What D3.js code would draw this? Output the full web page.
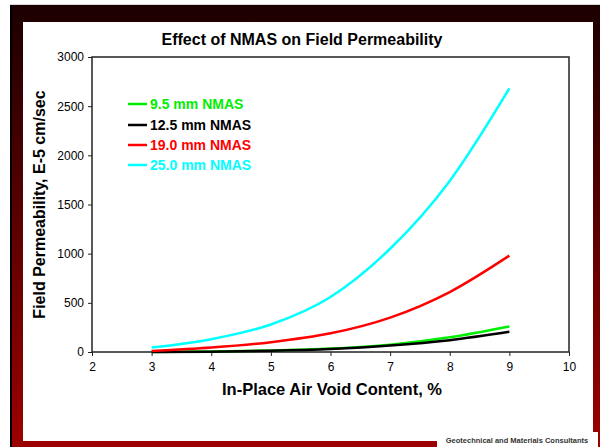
<!DOCTYPE html>
<html>
<head>
<meta charset="utf-8">
<script src="https://cdn.jsdelivr.net/npm/d3@7"></script>
<style>
  body { margin: 0; background: #fff; }
  text { font-family: "Liberation Sans", Arial, sans-serif; }
</style>
</head>
<body>
<div id="chart"></div>
<script>
// valores
const voids = [3, 4, 5, 6, 7, 8, 9];
const nmas95 = [0, 5, 15, 35, 75, 150, 260];
const nmas125 = [0, 3, 12, 30, 65, 120, 205];
const nmas190 = [10, 45, 100, 190, 350, 610, 980];
const nmas250 = [45, 130, 280, 560, 1050, 1740, 2680];
const seriesNames = ["9.5 mm NMAS", "12.5 mm NMAS", "19.0 mm NMAS", "25.0 mm NMAS"];
const seriesColors = ["#00ee00", "#000000", "#ff0000", "#00ffff"];
const yTicks = [0, 500, 1000, 1500, 2000, 2500, 3000];
const xTicks = [2, 3, 4, 5, 6, 7, 8, 9, 10];

const W = 600, H = 447;
const svg = d3.select("#chart").append("svg")
    .attr("width", W)
    .attr("height", H);

// moldura escura
const defs = svg.append("defs");
const grad = defs.append("linearGradient")
    .attr("id", "frameGrad")
    .attr("x1", 0).attr("y1", 0).attr("x2", 0).attr("y2", 1);
grad.append("stop").attr("offset", "0%").attr("stop-color", "#1c0000");
grad.append("stop").attr("offset", "100%").attr("stop-color", "#9c0000");

svg.append("line")
    .attr("x1", 10).attr("x2", W).attr("y1", 4.5).attr("y2", 4.5)
    .style("stroke", "#d8d8d8");
svg.append("rect")
    .attr("x", 10).attr("y", 5).attr("width", W - 10).attr("height", H - 5)
    .style("fill", "url(#frameGrad)");
svg.append("rect")
    .attr("x", 10).attr("y", 5).attr("width", 2).attr("height", H - 5)
    .style("fill", "#000");
svg.append("rect")
    .attr("x", 23).attr("y", 22).attr("width", 570).attr("height", 419)
    .style("fill", "#fff");

// caixa do logotipo
svg.append("rect")
    .attr("x", 437).attr("y", 432).attr("width", 161).attr("height", 15)
    .style("fill", "#fff");
svg.append("text")
    .attr("x", 517).attr("y", 443)
    .style("text-anchor", "middle")
    .style("font-size", "7.5px")
    .style("font-weight", "bold")
    .style("fill", "#333")
    .text("Geotechnical and Materials Consultants");

const mLeft = 92, mRight = 569, mTop = 57, mBottom = 352;

const x = d3.scaleLinear().domain([2, 10]).range([mLeft, mRight]);
const y = d3.scaleLinear().domain([0, 3000]).range([mBottom, mTop]);

svg.append("text")
    .attr("x", 302).attr("y", 45)
    .style("text-anchor", "middle")
    .style("font-size", "16px")
    .style("font-weight", "bold")
    .text("Effect of NMAS on Field Permeability");

// eixos
const xAxis = svg.append("g")
    .attr("transform", "translate(0," + mBottom + ")")
    .call(d3.axisBottom(x).tickValues(xTicks).tickFormat(d3.format("d"))
        .tickSize(4).tickSizeOuter(0).tickPadding(6));
const yAxis = svg.append("g")
    .attr("transform", "translate(" + mLeft + ",0)")
    .call(d3.axisLeft(y).tickValues(yTicks).tickFormat(d3.format("d"))
        .tickSize(4).tickSizeOuter(0).tickPadding(4));
[xAxis, yAxis].forEach(a => {
    a.select(".domain").remove();
    a.selectAll("line").style("stroke", "#222").style("stroke-width", 1);
    a.selectAll("text")
        .style("font-family", "'Liberation Sans', Arial, sans-serif")
        .style("font-size", "12px")
        .style("fill", "#000");
});

svg.append("rect")
    .attr("x", mLeft).attr("y", mTop)
    .attr("width", mRight - mLeft).attr("height", mBottom - mTop)
    .style("fill", "none")
    .style("stroke", "#222")
    .style("stroke-width", 1.5);

svg.append("text")
    .attr("x", 332).attr("y", 395)
    .style("text-anchor", "middle")
    .style("font-size", "16.5px")
    .style("font-weight", "bold")
    .text("In-Place Air Void Content, %");

svg.append("text")
    .attr("transform", "translate(45," + ((mTop + mBottom) / 2) + ") rotate(-90)")
    .style("text-anchor", "middle")
    .style("font-size", "16px")
    .style("font-weight", "bold")
    .text("Field Permeability, E-5 cm/sec");

// linhas
const allSeries = [nmas95, nmas125, nmas190, nmas250];
const line = d3.line()
    .x((d, i) => x(voids[i]))
    .y(d => y(d))
    .curve(d3.curveMonotoneX);

svg.append("g").selectAll("path")
    .data(allSeries)
    .enter()
    .append("path")
    .attr("d", d => line(d))
    .style("fill", "none")
    .style("stroke", (d, i) => seriesColors[i])
    .style("stroke-width", 2.5);

// legenda
const legY = [104, 125, 145, 165];
const leg = svg.append("g").selectAll("g")
    .data(seriesNames)
    .enter()
    .append("g")
    .attr("transform", (d, i) => "translate(128," + legY[i] + ")");
leg.append("line")
    .attr("x1", 0).attr("x2", 19)
    .style("stroke", (d, i) => seriesColors[i])
    .style("stroke-width", 2.5);
leg.append("text")
    .attr("x", 22).attr("y", 5)
    .style("font-size", "14px")
    .style("font-weight", "bold")
    .style("fill", (d, i) => seriesColors[i])
    .text(d => d);
</script>
</body>
</html>
